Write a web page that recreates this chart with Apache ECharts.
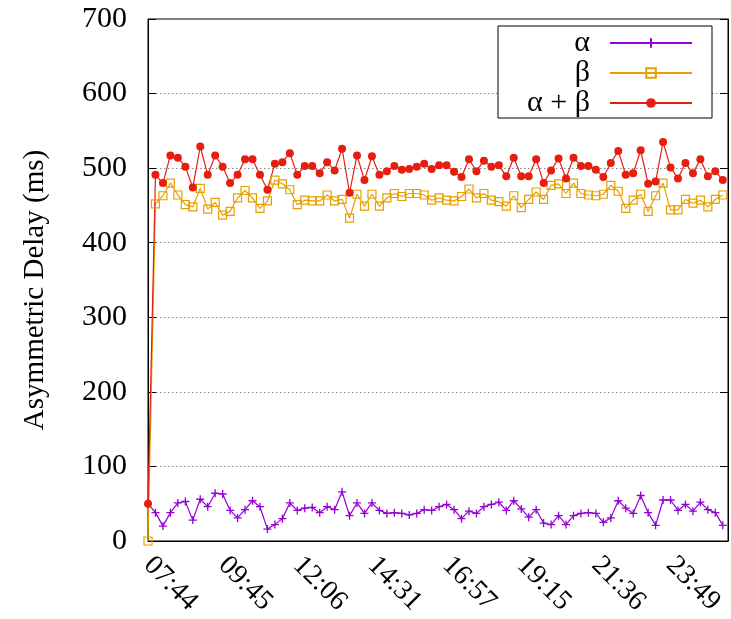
<!DOCTYPE html>
<html>
<head>
<meta charset="utf-8">
<script src="https://cdn.jsdelivr.net/npm/echarts@6/dist/echarts.min.js"></script>
<style>html,body{margin:0;padding:0;background:#fff;}#chart{width:731px;height:619px;}</style>
</head>
<body>
<div id="chart"></div>
<script>
// x tick labels, placed every 10 samples starting at sample 0
const tickLabels = ['07:44','09:45','12:06','14:31','16:57','19:15','21:36','23:49'];
const tickEvery = 10;
const seriesNames = ['\u03b1', '\u03b2', '\u03b1 + \u03b2'];

const alpha = [
  50,38,20,38,51,53,28,56,46,64,
  63,41,31,42,54,46,16,22,30,51,
  41,44,45,38,46,42,66,34,51,37,
  51,41,37,38,37,35,37,42,41,46,
  49,42,30,40,37,46,49,52,41,54,
  43,32,42,24,22,34,22,34,37,38,
  37,25,31,54,44,37,61,38,21,55,
  55,41,49,40,52,42,38,21
];
const beta = [
  0,452,463,480,464,451,448,473,445,454,
  437,442,460,470,460,446,456,484,479,471,
  451,457,456,456,464,456,458,433,465,449,
  465,449,460,466,462,466,466,464,457,460,
  457,456,462,472,460,466,457,455,449,463,
  447,458,468,458,477,479,466,480,466,464,
  463,465,477,469,446,457,465,442,463,480,
  444,444,458,453,457,448,458,464
];
const alphaBeta = [
  50,491,480,517,514,502,474,529,491,517,
  502,480,491,512,512,491,471,506,508,520,
  491,503,503,493,508,497,526,467,517,484,
  516,491,496,503,498,499,502,506,499,504,
  504,495,488,512,496,510,502,504,489,514,
  489,489,512,480,497,513,486,514,503,503,
  498,488,507,523,491,493,524,479,482,535,
  501,486,507,493,512,489,496,484
];

const toPairs = arr => arr.map((v, i) => [i, v]);
const serif = 'Liberation Serif, Times New Roman, serif';

const chart = echarts.init(document.getElementById('chart'), null, {renderer: 'canvas'});
chart.setOption({
  animation: false,
  backgroundColor: '#fff',
  grid: {left: 148, right: 3, top: 19, bottom: 78, show: true, borderColor: '#000', borderWidth: 1, backgroundColor: 'transparent'},
  legend: {
    orient: 'vertical', left: 498, top: 26, align: 'right',
    itemWidth: 82, itemHeight: 12, itemGap: 0,
    padding: [2, 19, 0, 12],
    borderColor: '#000', borderWidth: 1, backgroundColor: '#fff',
    textStyle: {fontFamily: serif, fontSize: 30, color: '#000', width: 80, lineHeight: 30, padding: [0, 15, 0, 0]},
    data: seriesNames
  },
  xAxis: {
    type: 'value', min: 0, max: 77.7, interval: tickEvery,
    axisLine: {show: true, lineStyle: {color: '#000', width: 1}},
    axisTick: {show: false},
    splitLine: {show: false},
    axisLabel: {
      rotate: -45, margin: 20, fontFamily: serif, fontSize: 28, color: '#000',
      showMaxLabel: false,
      formatter: v => {
        const k = v / tickEvery;
        return (Number.isInteger(k) && k < tickLabels.length) ? tickLabels[k] : '';
      }
    }
  },
  yAxis: [{
    type: 'value', min: 0, max: 700, interval: 100,
    name: 'Asymmetric Delay (ms)', nameLocation: 'middle', nameGap: 98,
    nameTextStyle: {fontFamily: serif, fontSize: 29, color: '#000', padding: [0, 20, 0, 0]},
    axisLine: {show: true, lineStyle: {color: '#000', width: 1}},
    axisTick: {show: true, inside: true, length: 8, lineStyle: {color: '#000'}},
    axisLabel: {fontFamily: serif, fontSize: 30, color: '#000', margin: 21},
    splitLine: {show: true, lineStyle: {color: '#888', width: 1, type: [1.5, 2.5]}}
  }, {
    type: 'value', min: 0, max: 700, interval: 100, position: 'right',
    axisLine: {show: true, lineStyle: {color: '#000', width: 1}},
    axisTick: {show: true, inside: true, length: 8, lineStyle: {color: '#000'}},
    axisLabel: {show: false},
    splitLine: {show: false}
  }],
  series: [{
    name: seriesNames[0], type: 'line', data: toPairs(alpha),
    symbol: 'path://M0,5L10,5M5,0L5,10', symbolSize: 8, symbolKeepAspect: true,
    itemStyle: {color: '#9400d3', borderColor: '#9400d3', borderWidth: 1.3},
    lineStyle: {color: '#9400d3', width: 1.2}
  }, {
    name: seriesNames[1], type: 'line', data: toPairs(beta),
    symbol: 'rect', symbolSize: 8,
    itemStyle: {color: 'rgba(0,0,0,0)', borderColor: '#e69f00', borderWidth: 1.2},
    lineStyle: {color: '#e69f00', width: 1.2}
  }, {
    name: seriesNames[2], type: 'line', data: toPairs(alphaBeta),
    symbol: 'circle', symbolSize: 8,
    itemStyle: {color: '#e51e10'},
    lineStyle: {color: '#e51e10', width: 1.2}
  }]
});
</script>
</body>
</html>
